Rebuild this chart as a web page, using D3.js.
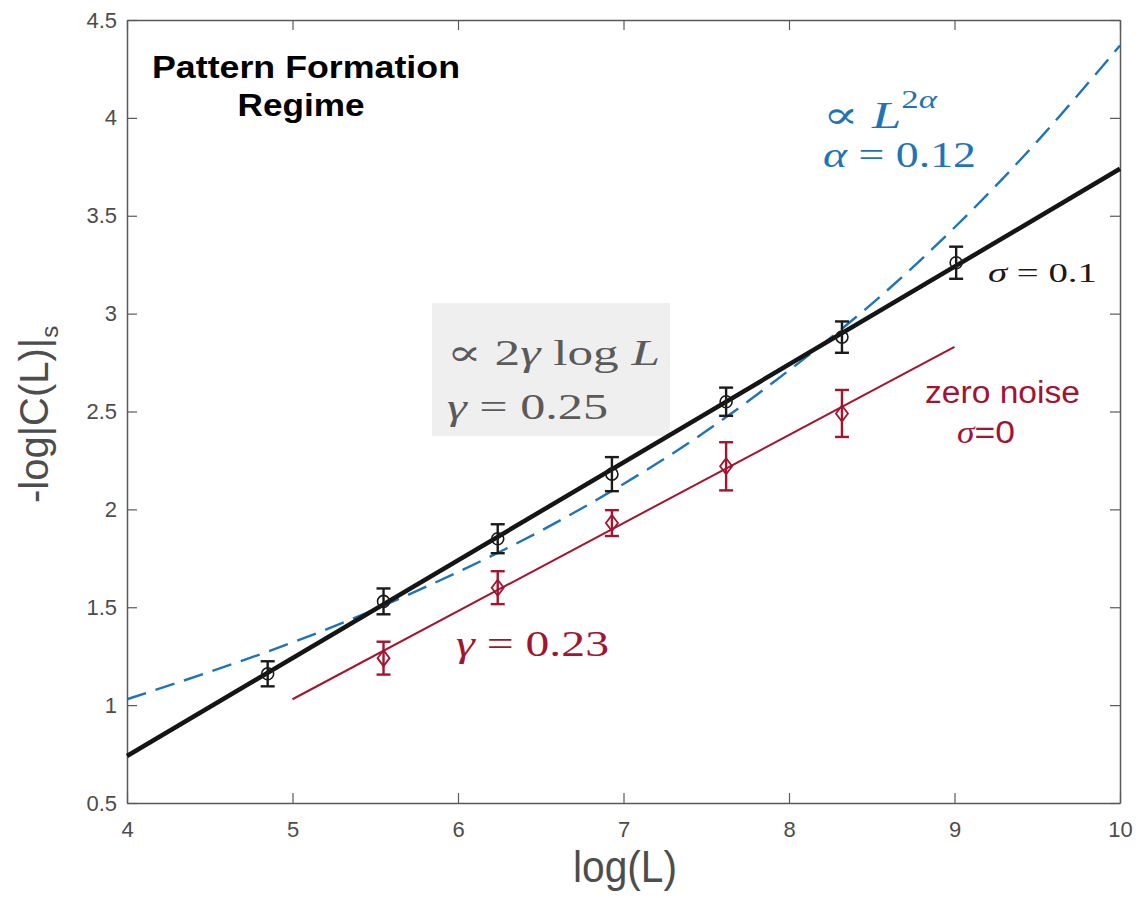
<!DOCTYPE html>
<html><head><meta charset="utf-8">
<script src="https://cdn.jsdelivr.net/npm/d3@7"></script>
<style>body{margin:0;background:#fff}svg{display:block}</style>
</head><body><svg id="c" width="1138" height="898"></svg>
<script>
// ---- data ----
const logL = [4.85, 5.55, 6.24, 6.93, 7.62, 8.32, 9.01];
const noiseVals = [1.16, 1.53, 1.85, 2.18, 2.55, 2.88, 3.26];
const noiseErr = [0.064, 0.066, 0.074, 0.087, 0.072, 0.08, 0.082];
const zeroLogL = [5.55, 6.24, 6.93, 7.62, 8.32];
const zeroVals = [1.24, 1.60, 1.93, 2.22, 2.49];
const zeroErr = [0.084, 0.084, 0.066, 0.123, 0.12];
const fitBlackX = [4, 10];
const fitBlackY = [0.74, 3.74];
const fitRedX = [5, 9];
const fitRedY = [1.03, 2.83];
const powX = [4, 4.5, 5, 5.5, 6, 6.5, 7, 7.5, 8, 8.5, 9, 9.5, 10];
const powY = [1.03, 1.17, 1.32, 1.49, 1.68, 1.89, 2.13, 2.40, 2.71, 3.05, 3.44, 3.88, 4.37];
const xTicks = [4, 5, 6, 7, 8, 9, 10];
const yTicks = [0.5, 1, 1.5, 2, 2.5, 3, 3.5, 4, 4.5];

// ---- layout ----
const svg = d3.select('#c');
const L = 127, R = 1120, T = 20, B = 803;
const x = d3.scaleLinear().domain([4, 10]).range([L, R]);
const y = d3.scaleLinear().domain([0.5, 4.5]).range([B, T]);
const axisCol = '#5a5a5a';
const sans = '"Liberation Sans", Arial, Helvetica, sans-serif';
const serif = '"Liberation Serif", "DejaVu Serif", serif';
const blue = '#1f74b8', red = '#a2142f';

function styleAxis(g, labels) {
  g.attr('font-size', 22).attr('font-family', sans);
  g.selectAll('.domain').attr('stroke', axisCol).attr('stroke-width', 1.5);
  g.selectAll('.tick line').attr('stroke', axisCol).attr('stroke-width', 1.2);
  g.selectAll('.tick text').attr('fill', '#4d4d4d').style('font-family', sans).style('font-size', '22px');
  if (!labels) g.selectAll('.tick text').remove();
}
const fmt = d => d3.format('')(d);
svg.append('g').attr('transform', `translate(0,${B})`)
  .call(d3.axisBottom(x).tickValues(xTicks).tickFormat(fmt).tickSizeInner(-10).tickSizeOuter(0).tickPadding(18))
  .call(g => styleAxis(g, true));
svg.append('g').attr('transform', `translate(0,${T})`)
  .call(d3.axisTop(x).tickValues(xTicks).tickSizeInner(-10).tickSizeOuter(0))
  .call(g => styleAxis(g, false));
svg.append('g').attr('transform', `translate(${L},0)`)
  .call(d3.axisLeft(y).tickValues(yTicks).tickFormat(fmt).tickSizeInner(-10).tickSizeOuter(0).tickPadding(10))
  .call(g => styleAxis(g, true));
svg.append('g').attr('transform', `translate(${R},0)`)
  .call(d3.axisRight(y).tickValues(yTicks).tickSizeInner(-10).tickSizeOuter(0))
  .call(g => styleAxis(g, false));

// axis labels
svg.append('text').attr('x', 625).attr('y', 882).attr('text-anchor', 'middle')
  .attr('textLength', 104).attr('lengthAdjust', 'spacingAndGlyphs')
  .style('font-family', sans).style('font-size', '44px').attr('fill', '#4d4d4d').text('log(L)');
const yl = svg.append('text').attr('transform', `translate(48,503) rotate(-90)`)
  .attr('text-anchor', 'start').style('font-family', sans).style('font-size', '40px').attr('fill', '#4d4d4d');
yl.append('tspan').text('-log|C(L)|');
yl.append('tspan').attr('dy', 10).style('font-size', '24px').text('s');

// gray annotation box
svg.append('rect').attr('x', 432).attr('y', 303).attr('width', 238).attr('height', 133).attr('fill', '#efefef');

// lines
const line = d3.line().x(d => x(d[0])).y(d => y(d[1]));
svg.append('path').datum(powX.map((v, i) => [v, powY[i]]))
  .attr('d', line.curve(d3.curveNatural)).attr('fill', 'none').attr('stroke', blue)
  .attr('stroke-width', 2.4).attr('stroke-dasharray', '20,10');
line.curve(d3.curveLinear);
svg.append('path').datum(fitBlackX.map((v, i) => [v, fitBlackY[i]]))
  .attr('d', line).attr('fill', 'none').attr('stroke', '#151515').attr('stroke-width', 4.5);
svg.append('path').datum(fitRedX.map((v, i) => [v, fitRedY[i]]))
  .attr('d', line).attr('fill', 'none').attr('stroke', red).attr('stroke-width', 2);

// error bars
function errBars(xs, ys, es, col) {
  const g = svg.append('g').attr('stroke', col).attr('stroke-width', 2.4).attr('fill', 'none');
  xs.forEach((xv, i) => {
    const cx = x(xv), y0 = y(ys[i] - es[i]), y1 = y(ys[i] + es[i]);
    g.append('line').attr('x1', cx).attr('x2', cx).attr('y1', y0).attr('y2', y1);
    g.append('line').attr('x1', cx - 7).attr('x2', cx + 7).attr('y1', y0).attr('y2', y0);
    g.append('line').attr('x1', cx - 7).attr('x2', cx + 7).attr('y1', y1).attr('y2', y1);
  });
  return g;
}
errBars(logL, noiseVals, noiseErr, '#1a1a1a');
errBars(zeroLogL, zeroVals, zeroErr, red);
svg.append('g').selectAll('circle').data(logL).join('circle')
  .attr('cx', d => x(d)).attr('cy', (d, i) => y(noiseVals[i])).attr('r', 6)
  .attr('fill', 'none').attr('stroke', '#1a1a1a').attr('stroke-width', 1.6);
svg.append('g').selectAll('path').data(zeroLogL).join('path')
  .attr('transform', (d, i) => `translate(${x(d)},${y(zeroVals[i])})`)
  .attr('d', 'M0,-8L6,0L0,8L-6,0Z').attr('fill', 'none').attr('stroke', red).attr('stroke-width', 1.8);

// annotations
function t(xp, yp, txt, size, fam, col, weight, anchor, len) {
  const e = svg.append('text').attr('x', xp).attr('y', yp).style('font-family', fam)
    .style('font-size', size + 'px').attr('fill', col).style('font-weight', weight || 'normal')
    .attr('text-anchor', anchor || 'start').text(txt);
  if (len) e.attr('textLength', len).attr('lengthAdjust', 'spacingAndGlyphs');
  return e;
}
t(306, 78, 'Pattern Formation', 31, sans, '#000', 'bold', 'middle', 308);
t(301, 116, 'Regime', 31, sans, '#000', 'bold', 'middle', 127);

// gray box text
const g1 = t(447, 365, '', 36, serif, '#5a5a5a', 'normal', 'start', 213);
g1.append('tspan').text('∝ 2');
g1.append('tspan').style('font-style', 'italic').text('γ');
g1.append('tspan').text(' log ');
g1.append('tspan').style('font-style', 'italic').text('L');
const g2 = t(447, 419, '', 36, serif, '#5a5a5a', 'normal', 'start', 161);
g2.append('tspan').style('font-style', 'italic').text('γ');
g2.append('tspan').text(' = 0.25');

// blue text
const b1 = t(823, 128, '', 38, serif, blue, 'normal', 'start', 114);
b1.append('tspan').text('∝ ');
b1.append('tspan').style('font-style', 'italic').text('L');
b1.append('tspan').attr('dy', -20).style('font-size', '25px').text('2');
b1.append('tspan').style('font-style', 'italic').style('font-size', '25px').text('α');
const b2 = t(823, 167, '', 36, serif, blue, 'normal', 'start', 153);
b2.append('tspan').style('font-style', 'italic').text('α');
b2.append('tspan').text(' = 0.12');

// sigma text
const s1 = t(988, 282, '', 27, serif, '#1a1a1a', 'normal', 'start', 109);
s1.append('tspan').style('font-style', 'italic').text('σ');
s1.append('tspan').text(' = 0.1');

// red texts
t(925, 403, 'zero noise', 31, sans, red, 'normal', 'start', 155);
const r1 = t(957, 443, '', 31, sans, red, 'normal', 'start', 58);
r1.append('tspan').style('font-family', serif).style('font-style', 'italic').text('σ');
r1.append('tspan').text('=0');
const r2 = t(456, 656, '', 36, serif, red, 'normal', 'start', 153);
r2.append('tspan').style('font-style', 'italic').text('γ');
r2.append('tspan').text(' = 0.23');
</script></body></html>
